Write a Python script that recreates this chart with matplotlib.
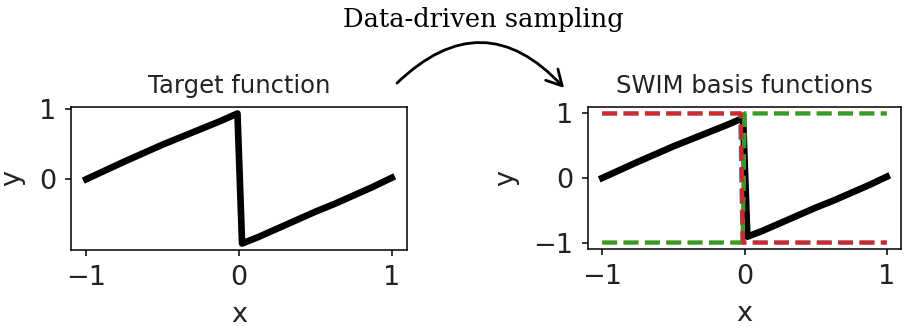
import matplotlib
matplotlib.use("Agg")
import matplotlib.pyplot as plt
from matplotlib.patches import FancyArrowPatch

# target function
target_x = [-1.0, -0.875, -0.75, -0.625, -0.5, -0.375, -0.25, -0.125, -0.01,
            0.02, 0.125, 0.25, 0.375, 0.5, 0.625, 0.75, 0.875, 1.0]
target_y = [0.0, 0.125, 0.25, 0.37, 0.49, 0.6, 0.71, 0.82, 0.93,
            -0.91, -0.82, -0.70, -0.58, -0.46, -0.35, -0.23, -0.11, 0.02]

# steep basis functions (tanh-like steps)
blue_x = [-1.0, -0.03, -0.015, 1.0]
blue_y = [1.0, 1.0, -1.0, -1.0]
orange_x = [-1.0, -0.015, 0.0, 1.0]
orange_y = [-1.0, -1.0, 1.0, 1.0]
green_x = [-1.0, -0.012, 0.002, 1.0]
green_y = [-1.0, -1.0, 1.0, 1.0]
red_x = [-1.0, -0.025, -0.01, 1.0]
red_y = [1.0, 1.0, -1.0, -1.0]

ticks = [-1, 0, 1]

fig = plt.figure(figsize=(9.13, 3.27), dpi=100)
W, H = 913, 327

def px_axes(x0, x1, y0, y1):
    return fig.add_axes([x0 / W, 1 - y1 / H, (x1 - x0) / W, (y1 - y0) / H])

ax1 = px_axes(71, 407, 107, 250)
ax2 = px_axes(588, 901, 107, 249)

ax1.plot(target_x, target_y, color="k", lw=4.8, solid_joinstyle="round")
ax1.set_title("Target function", fontsize=17.5, color="#222222", pad=10)

ax2.plot(target_x, target_y, color="k", lw=4.8, solid_joinstyle="round")
ax2.plot(blue_x, blue_y, "--", color="C0", lw=2.9)
ax2.plot(orange_x, orange_y, "--", color="C1", lw=2.9)
ax2.plot(green_x, green_y, "--", color="C2", lw=2.9)
ax2.plot(red_x, red_y, "--", color="C3", lw=2.9)
ax2.set_title("SWIM basis functions", fontsize=17.5, color="#222222", pad=10)

for ax in (ax1, ax2):
    ax.set_xticks(ticks)
    ax.set_xlabel("x", fontsize=19.5, color="#222222", labelpad=8)
    ax.set_ylabel("y", fontsize=19.5, color="#222222", labelpad=10)
    ax.tick_params(labelsize=19.5, labelcolor="#222222", width=1.1,
                   length=4.5, pad=6)
    for s in ax.spines.values():
        s.set_linewidth(1.1)
ax1.set_yticks([0, 1])
ax2.set_yticks(ticks)

# curved arrow between the panels
arrow = FancyArrowPatch((395 / W, 1 - 85 / H), (566 / W, 1 - 90 / H),
                        transform=fig.transFigure,
                        connectionstyle="arc3,rad=-0.52",
                        arrowstyle="->,head_length=11,head_width=6",
                        lw=2.0, color="k", mutation_scale=1)
fig.patches.append(arrow)
fig.text(483 / W, 1 - 20 / H, "Data-driven sampling", family="DejaVu Serif",
         fontsize=18.5, ha="center", va="center")

fig.savefig("out.png", dpi=100)
